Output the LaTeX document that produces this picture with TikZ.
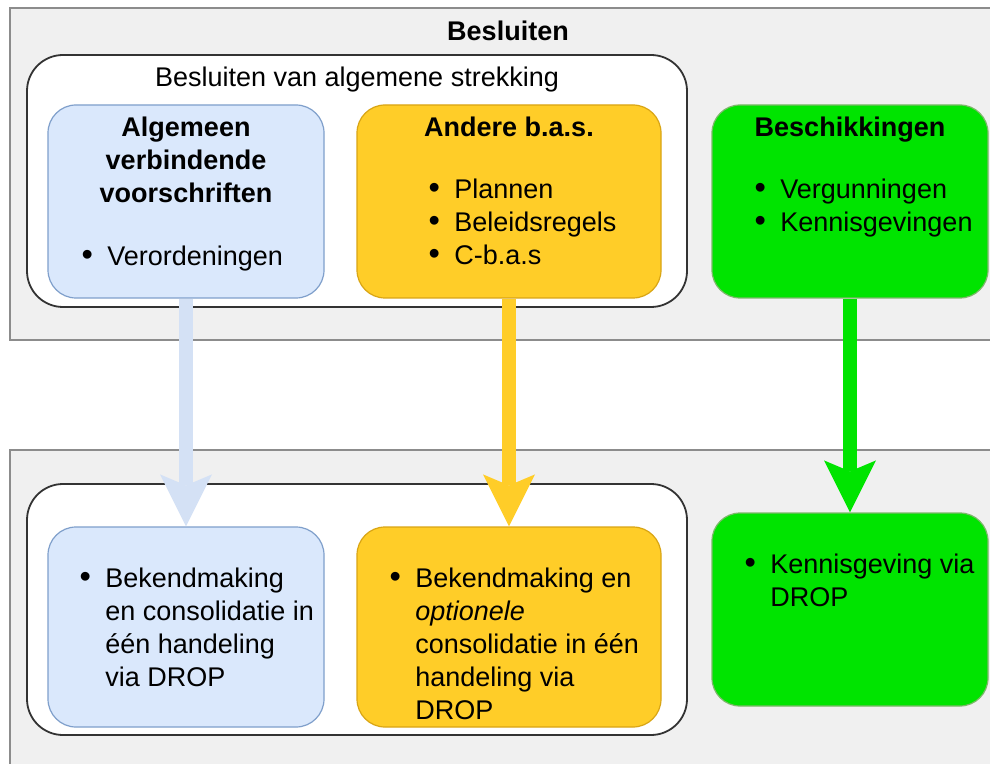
\documentclass[tikz,border=0pt]{standalone}
\usepackage{fontspec}
\setmainfont{Liberation Sans}
\usetikzlibrary{arrows.meta}
\definecolor{panelgray}{HTML}{F0F0F0}
\definecolor{panelline}{HTML}{8C8C8C}
\definecolor{avvfill}{HTML}{DAE8FC}
\definecolor{avvline}{HTML}{7F9FCB}
\definecolor{avvarrow}{HTML}{D4E1F5}
\definecolor{basfill}{HTML}{FFCD28}
\definecolor{basline}{HTML}{D9A514}
\definecolor{beschfill}{HTML}{00E400}
\definecolor{beschline}{HTML}{7DB86A}
\newcommand{\itm}{\makebox[20pt][c]{\scalebox{1.2}{\textbullet}}}
\newcommand{\ind}{\hspace*{20pt}}

\begin{document}
\begin{tikzpicture}[x=0.5pt, y=-0.5pt,
  panel/.style={draw=panelline, fill=panelgray, line width=0.8pt},
  group/.style={draw=black!80, fill=white, line width=0.9pt, rounded corners=18pt,
    minimum width=330pt, minimum height=126pt, inner sep=0pt},
  card/.style={rounded corners=14pt, line width=0.6pt, minimum width=138pt,
    minimum height=96.5pt, inner sep=0pt},
  avvbox/.style={card, draw=avvline, fill=avvfill},
  basbox/.style={card, draw=basline, fill=basfill, minimum width=152pt},
  beschbox/.style={card, draw=beschline, fill=beschfill},
  txt/.style={inner sep=0pt, anchor=base west, font=\fontsize{13.5}{16.5}\selectfont},
  ttl/.style={inner sep=0pt, anchor=base, font=\fontsize{13.5}{16.5}\selectfont\bfseries},
  flow/.style={line width=7pt, -{Stealth[length=26pt, width=26pt, inset=5.5pt, line width=0pt]}}]
  \useasboundingbox (0,0) rectangle (990,764);
  \clip (0,0) rectangle (990,764);

  % panels
  \draw[panel] (10,8) rectangle (1010,340);
  \draw[panel] (10,450) rectangle (1010,790);
  \node[group] (algtop) at (357,181) {};
  \node[group, minimum height=125.5pt] (algbot) at (357,609.5) {};

  % boxes
  \node[avvbox] (avv) at (186,201.5) {};
  \node[basbox] (bas) at (509,201.5) {};
  \node[beschbox] (besch) at (850,201.5) {};
  \node[avvbox, minimum height=100pt] (avvdrop) at (186,627) {};
  \node[basbox, minimum height=100pt] (basdrop) at (509,627) {};
  \node[beschbox] (beschdrop) at (850,609.5) {};

  % texts
  \node[ttl] (besluiten) at (508,41) {Besluiten};
  \node[txt, anchor=base] (bvas) at (357,87) {Besluiten van algemene strekking};
  \node[ttl] (avvtitle) at (186,137)
    {\begin{tabular}[t]{@{}c@{}}Algemeen\\verbindende\\voorschriften\end{tabular}};
  \node[txt] (avvlist) at (67,266) {\itm Verordeningen};
  \node[ttl] (bastitle) at (509,137) {Andere b.a.s.};
  \node[txt] (baslist) at (414,199)
    {\begin{tabular}[t]{@{}l@{}}\itm Plannen\\\itm Beleidsregels\\\itm C-b.a.s\end{tabular}};
  \node[ttl] (beschtitle) at (850,137) {Beschikkingen};
  \node[txt] (beschlist) at (740,199)
    {\begin{tabular}[t]{@{}l@{}}\itm Vergunningen\\\itm Kennisgevingen\end{tabular}};
  \node[txt] (avvdroplist) at (65,587)
    {\begin{tabular}[t]{@{}l@{}}\itm Bekendmaking\\\ind en consolidatie in\\
      \ind één handeling\\\ind via DROP\end{tabular}};
  \node[txt] (basdroplist) at (375,587)
    {\begin{tabular}[t]{@{}l@{}}\itm Bekendmaking en\\\ind\textit{optionele}\\
      \ind consolidatie in één\\\ind handeling via\\\ind DROP\end{tabular}};
  \node[txt] (beschdroplist) at (730,573)
    {\begin{tabular}[t]{@{}l@{}}\itm Kennisgeving via\\\ind DROP\end{tabular}};

  % arrows
  \draw[flow, avvarrow] (avv.south) -- (avvdrop.north);
  \draw[flow, basfill] (bas.south) -- (basdrop.north);
  \draw[flow, beschfill] (besch.south) -- (beschdrop.north);
\end{tikzpicture}
\end{document}
